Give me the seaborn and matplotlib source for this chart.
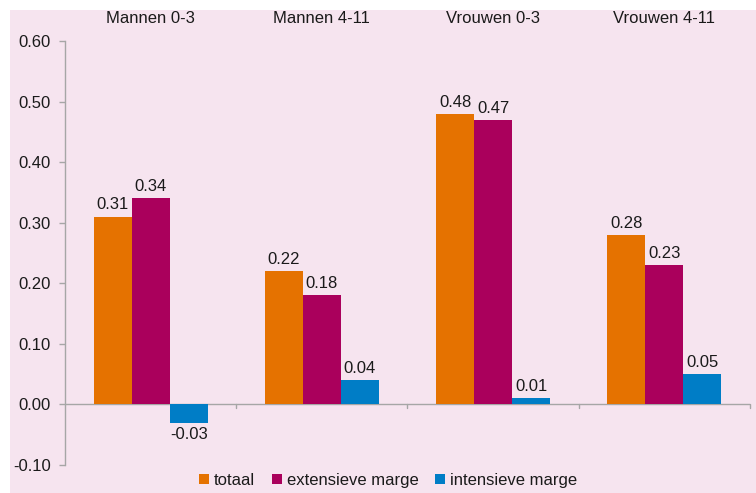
import matplotlib
matplotlib.use("Agg")
import matplotlib.pyplot as plt
import seaborn as sns
import pandas as pd
from matplotlib.patches import Rectangle

categories = ["Mannen 0-3", "Mannen 4-11", "Vrouwen 0-3", "Vrouwen 4-11"]
series = ["totaal", "extensieve marge", "intensieve marge"]
totaal = [0.31, 0.22, 0.48, 0.28]
extensieve = [0.34, 0.18, 0.47, 0.23]
intensieve = [-0.03, 0.04, 0.01, 0.05]
yticks = [-0.10, 0.00, 0.10, 0.20, 0.30, 0.40, 0.50, 0.60]

colors = ["#E57200", "#AA005C", "#007DC6"]
bg = "#F6E4EF"
grey = "#A6A6A6"
fs = 12

rows = []
for name, vals in zip(series, [totaal, extensieve, intensieve]):
    for c, v in zip(categories, vals):
        rows.append({"cat": c, "serie": name, "val": v})
df = pd.DataFrame(rows)

sns.set_theme(style="white")
plt.rcParams["font.family"] = ["Liberation Sans", "DejaVu Sans"]

fig = plt.figure(figsize=(7.56, 4.93), dpi=100, facecolor="white")
fig.patches.append(Rectangle((10 / 756, 0), 1, 1 - 10 / 493, transform=fig.transFigure,
                             facecolor=bg, edgecolor="none", zorder=-10))
ax = fig.add_axes([65 / 756, 1 - 465 / 493, (750 - 65) / 756, (465 - 41) / 493])
ax.set_facecolor(bg)

sns.barplot(data=df, x="cat", y="val", hue="serie", order=categories, hue_order=series,
            palette=colors, width=0.667, ax=ax, legend=True, saturation=1, linewidth=0)

for cont in ax.containers:
    ax.bar_label(cont, labels=[f"{v:.2f}" for v in cont.datavalues], padding=3,
                 fontsize=fs, color="#1a1a1a")

ax.set_ylim(-0.10, 0.60)
ax.set_xlim(-0.5, len(categories) - 0.5)
ax.set_yticks(yticks)
ax.set_yticklabels([f"{t:.2f}" for t in yticks], fontsize=fs, color="#1a1a1a")
ax.tick_params(axis="y", left=True, length=4, width=1, color=grey, pad=6)

ax.xaxis.set_ticks_position("top")
ax.tick_params(axis="x", top=False, bottom=False, labeltop=True, labelbottom=False,
               labelsize=fs, pad=11, length=0, labelcolor="#1a1a1a")
ax.set_xlabel("")
ax.set_ylabel("")

for s in ["top", "right", "bottom"]:
    ax.spines[s].set_visible(False)
ax.spines["left"].set_color(grey)
ax.spines["left"].set_linewidth(1)

ax.axhline(0, color=grey, lw=1, zorder=0.5)
for i in range(len(categories)):
    ax.plot([i + 0.5, i + 0.5], [0, -0.0065], color=grey, lw=1, clip_on=False)

handles, labels = ax.get_legend_handles_labels()
ax.legend_.remove()
fig.legend(handles, labels, loc="lower center", bbox_to_anchor=(388 / 756, -0.02), ncol=3,
           frameon=False, fontsize=fs, handlelength=0.6, handleheight=0.6,
           handletextpad=0.3, columnspacing=1.0, labelcolor="#1a1a1a")

fig.savefig("out.png", dpi=100, facecolor="white")
